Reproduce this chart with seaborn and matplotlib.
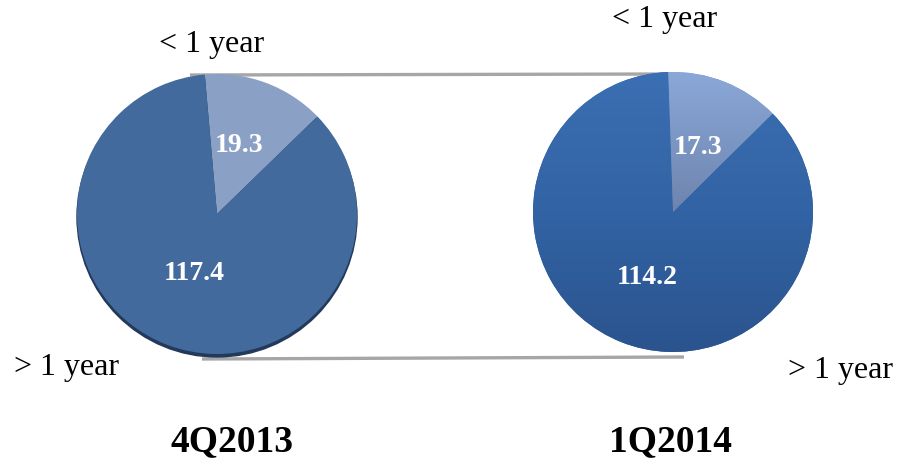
import numpy as np
import matplotlib
matplotlib.use("Agg")
import matplotlib.pyplot as plt
import seaborn as sns
from matplotlib.colors import LinearSegmentedColormap

# ---- data ----
periods = ["4Q2013", "1Q2014"]
short_term = [19.3, 17.3]      # < 1 year
long_term = [117.4, 114.2]     # > 1 year
cat_labels = ["< 1 year", "> 1 year"]

sns.set_theme(style="white")
plt.rcParams['font.family'] = ['Liberation Serif', 'DejaVu Serif']

W, H = 901, 465
fig = plt.figure(figsize=(W / 100, H / 100), dpi=100)
ax = fig.add_axes([0, 0, 1, 1])
ax.set_xlim(0, W)
ax.set_ylim(0, H)
ax.set_aspect('equal')
ax.axis('off')


def Y(y):
    return H - y


centers = [(217, Y(214)), (673, Y(212))]
radii = [140, 140]
starts = [95, 92]

# connecting grey lines
ax.plot([190, 668], [Y(75), Y(74)], color="#A6A6A6", lw=2.4, zorder=1, solid_capstyle="butt")
ax.plot([202, 684], [Y(359), Y(357)], color="#A6A6A6", lw=2.4, zorder=1, solid_capstyle="butt")

# left pie: flat colours with a dark shadow rim at the bottom
shadow = plt.Circle((centers[0][0], centers[0][1] - 3), radii[0], color="#23395A", zorder=2)
ax.add_patch(shadow)
wl, _ = ax.pie([short_term[0], long_term[0]], center=centers[0], radius=radii[0],
               startangle=starts[0], counterclock=False,
               colors=["#8AA0C5", "#426A9C"], wedgeprops=dict(linewidth=0, zorder=3),
               frame=True)

# right pie: vertical gradients
wr, _ = ax.pie([short_term[1], long_term[1]], center=centers[1], radius=radii[1],
               startangle=starts[1], counterclock=False,
               colors=["#7E9AC9", "#3162A3"], wedgeprops=dict(linewidth=0, zorder=3),
               frame=True)
cm_small = LinearSegmentedColormap.from_list("s", ["#8AA8D8", "#6E84AE", "#5A6E98"])
cm_big = LinearSegmentedColormap.from_list("b", ["#3B6FB3", "#3263A4", "#2B548E"])
cx, cy = centers[1]
r = radii[1]
grad = np.linspace(0, 1, 256).reshape(-1, 1)
for wedge, cm in zip(wr, [cm_small, cm_big]):
    im = ax.imshow(grad, cmap=cm, extent=(cx - r, cx + r, cy - r, cy + r),
                   origin="upper", aspect="auto", zorder=4, interpolation="bilinear")
    im.set_clip_path(wedge)

ax.set_xlim(0, W)
ax.set_ylim(0, H)
ax.axis('off')

# category labels
lab_kw = dict(fontsize=23, color="black", ha="center", va="center", zorder=6)
ax.text(212, Y(45), cat_labels[0], **lab_kw)
ax.text(66, Y(368), cat_labels[1], **lab_kw)
ax.text(665, Y(20), cat_labels[0], **lab_kw)
ax.text(841, Y(370), cat_labels[1], **lab_kw)

# values
val_kw = dict(fontsize=20, color="white", fontweight="bold", ha="center", va="center", zorder=6)
ax.text(239, Y(145), f"{short_term[0]:.1f}", **val_kw)
ax.text(194, Y(274), f"{long_term[0]:.1f}", **val_kw)
ax.text(698, Y(148), f"{short_term[1]:.1f}", **val_kw)
ax.text(647, Y(277), f"{long_term[1]:.1f}", **val_kw)

# period titles
t_kw = dict(fontsize=27, color="black", fontweight="bold", ha="center", va="center", zorder=6)
ax.text(232, Y(442), periods[0], **t_kw)
ax.text(670, Y(442), periods[1], **t_kw)

fig.savefig("out.png", dpi=100, facecolor="white")
